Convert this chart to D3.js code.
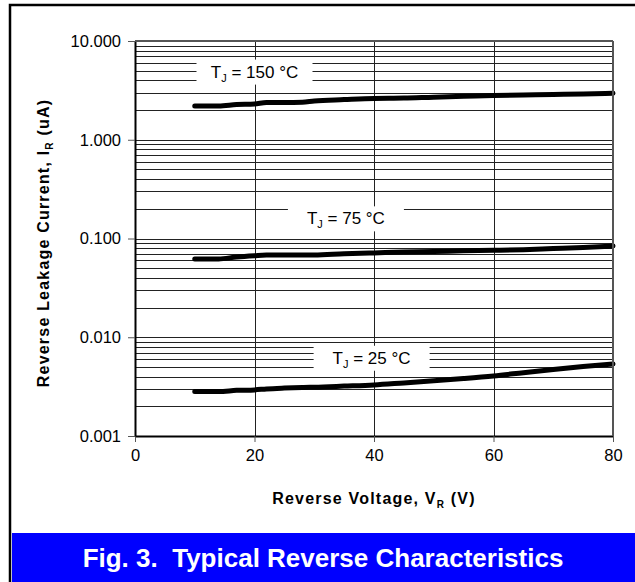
<!DOCTYPE html>
<html>
<head>
<meta charset="utf-8">
<script src="https://d3js.org/d3.v7.min.js"></script>
<style>
  body { margin: 0; background: #fff; }
  svg { display: block; font-family: Arial, "Liberation Sans", sans-serif; }
</style>
</head>
<body>
<svg id="chart" width="635" height="582"></svg>
<script>
// reverse voltage (V)
const voltage = [10, 14, 17, 20, 22, 25, 28, 30, 35, 40, 45, 50, 55, 60, 65, 70, 75, 80];
// reverse leakage current (uA) per junction temperature
const current150 = [2.2, 2.2, 2.27, 2.3, 2.38, 2.38, 2.4, 2.47, 2.55, 2.62, 2.64, 2.7, 2.75, 2.8, 2.84, 2.88, 2.91, 2.96];
const current75 = [0.062, 0.062, 0.065, 0.067, 0.068, 0.068, 0.068, 0.068, 0.07, 0.0715, 0.073, 0.074, 0.075, 0.076, 0.077, 0.079, 0.081, 0.084];
const current25 = [0.00282, 0.00282, 0.0029, 0.00293, 0.003, 0.00306, 0.0031, 0.00312, 0.0032, 0.00329, 0.00345, 0.00362, 0.00382, 0.00406, 0.00438, 0.00472, 0.00505, 0.00537];
const seriesLabels = ["150", "75", "25"];
const xTicks = [0, 20, 40, 60, 80];
const yTicks = [0.001, 0.01, 0.1, 1, 10];

const svg = d3.select("#chart");
const margin = { top: 41, left: 135, right: 22, bottom: 146 };
const width = 635 - margin.left - margin.right;
const height = 582 - margin.top - margin.bottom;

// outer frame
svg.append("rect")
  .attr("x", 10).attr("y", 5).attr("width", 640).attr("height", 600)
  .attr("fill", "none").attr("stroke", "#000").attr("stroke-width", 2.5);

const x = d3.scaleLinear().domain([0, 80]).range([0, width]);
const y = d3.scaleLog().domain([0.001, 10]).range([height, 0]);

const g = svg.append("g").attr("transform", `translate(${margin.left},${margin.top})`);

// minor + major horizontal grid
const hLines = [];
for (let d = 0.001; d < 10; d *= 10) {
  for (let k = 1; k <= 10; k++) hLines.push(+(d * k).toPrecision(3));
}
g.append("g").selectAll("line")
  .data(Array.from(new Set(hLines)))
  .join("line")
  .attr("x1", 0).attr("x2", width)
  .attr("y1", d => Math.round(y(d)) + 0.5).attr("y2", d => Math.round(y(d)) + 0.5)
  .attr("stroke", "#222").attr("stroke-width", 1);

// vertical grid
g.append("g").selectAll("line")
  .data(xTicks.slice(1))
  .join("line")
  .attr("x1", d => Math.round(x(d)) + 0.5).attr("x2", d => Math.round(x(d)) + 0.5)
  .attr("y1", 0).attr("y2", height)
  .attr("stroke", "#222").attr("stroke-width", 1);

// series labels with white boxes
const labelPos = [
  { v: 20, i: 4.9 },
  { v: 35.3, i: 0.16 },
  { v: 39.6, i: 0.0062 }
];
seriesLabels.forEach((t, k) => {
  const p = labelPos[k];
  const cx = x(p.v), cy = y(p.i);
  g.append("rect")
    .attr("x", cx - 58).attr("y", cy - 12)
    .attr("width", 116).attr("height", 25)
    .attr("fill", "#fff");
  const txt = g.append("text")
    .attr("x", cx).attr("y", cy + 6)
    .attr("text-anchor", "middle")
    .attr("font-size", 17).attr("fill", "#000");
  txt.append("tspan").text("T");
  txt.append("tspan").attr("font-size", 11).attr("dy", 4).text("J");
  txt.append("tspan").attr("dy", -4).text(` = ${t} °C`);
});

// curves
const line = d3.line()
  .x((d, i) => x(voltage[i]))
  .y(d => y(d))
  .curve(d3.curveMonotoneX);
[current150, current75, current25].forEach(s => {
  g.append("path")
    .attr("d", line(s))
    .attr("fill", "none")
    .attr("stroke", "#000")
    .attr("stroke-width", 5)
    .attr("stroke-linecap", "round");
});

// axes
const xAxis = g.append("g")
  .attr("transform", `translate(0,${height})`)
  .call(d3.axisBottom(x).tickValues(xTicks).tickSize(6).tickSizeOuter(0).tickPadding(7));
const yAxis = g.append("g")
  .call(d3.axisLeft(y).tickValues(yTicks).tickFormat(d3.format(".3f")).tickSize(7).tickSizeOuter(0).tickPadding(7));
[xAxis, yAxis].forEach(a => {
  a.selectAll("text").attr("font-size", 16.5).attr("fill", "#000").attr("font-family", "Arial, 'Liberation Sans', sans-serif");
  a.selectAll("line").attr("stroke", "#000");
  a.select(".domain").attr("stroke", "#000").attr("stroke-width", 2);
});
xAxis.selectAll(".tick line").attr("stroke", "#555");
yAxis.selectAll(".tick line").attr("stroke", "#555");
// right and top edges of plot
g.append("line")
  .attr("x1", width).attr("x2", width).attr("y1", 0).attr("y2", height)
  .attr("stroke", "#555").attr("stroke-width", 2);
g.append("line")
  .attr("x1", 0).attr("x2", width).attr("y1", 0).attr("y2", 0)
  .attr("stroke", "#555").attr("stroke-width", 2);

// axis titles
const xt = svg.append("text")
  .attr("x", margin.left + width / 2).attr("y", 504)
  .attr("text-anchor", "middle")
  .attr("font-size", 16).attr("font-weight", "bold")
  .attr("letter-spacing", 1.2);
xt.append("tspan").text("Reverse Voltage, V");
xt.append("tspan").attr("font-size", 10).attr("dy", 4).text("R");
xt.append("tspan").attr("dy", -4).text(" (V)");

const yt = svg.append("text")
  .attr("transform", `translate(49,${margin.top + 202}) rotate(-90)`)
  .attr("text-anchor", "middle")
  .attr("font-size", 16).attr("font-weight", "bold")
  .attr("letter-spacing", 1.2);
yt.append("tspan").text("Reverse Leakage Current, I");
yt.append("tspan").attr("font-size", 10).attr("dy", 4).text("R");
yt.append("tspan").attr("dy", -4).text(" (uA)");

// caption banner
svg.append("rect")
  .attr("x", 12).attr("y", 533).attr("width", 623).attr("height", 49)
  .attr("fill", "#0000ff");
svg.append("text")
  .attr("x", 323).attr("y", 567)
  .attr("text-anchor", "middle")
  .attr("font-size", 26).attr("font-weight", "bold").attr("fill", "#fff")
  .attr("xml:space", "preserve")
  .text("Fig. 3.  Typical Reverse Characteristics");
</script>
</body>
</html>
